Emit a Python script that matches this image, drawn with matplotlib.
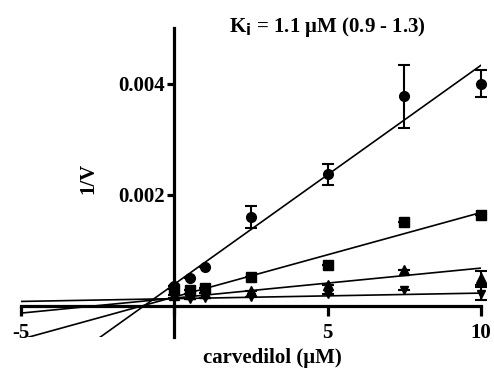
import matplotlib
matplotlib.use("Agg")
import matplotlib.pyplot as plt
import numpy as np

conc = [0, 0.5, 1, 2.5, 5, 7.5, 10]

circle_y = [0.00035, 0.00050, 0.00070, 0.00160, 0.00237, 0.00377, 0.00400]
circle_err = [0, 0, 0, 0.00020, 0.00019, 0.00057, 0.00024]
square_y = [0.00030, 0.00029, 0.00032, 0.00052, 0.00074, 0.00151, 0.00164]
square_err = [0, 0, 0, 0, 0, 0, 0]
tri_y = [0.00020, 0.00022, 0.00024, 0.00026, 0.00038, 0.00065, 0.00050]
tri_err = [0, 0, 0, 0, 0, 0, 0.00013]
itri_y = [0.00015, 0.00013, 0.00015, 0.00016, 0.00022, 0.00029, 0.00022]
itri_err = [0, 0, 0, 0, 0, 0, 0.00012]

# fitted lines: (slope, intercept)
fit_slopes = [0.000394, 0.000152, 0.000054, 0.000010]
fit_intercepts = [0.00039, 0.00016, 0.00014, 0.00013]

xticks = [-5, 0, 5, 10]
xticklabels = ["-5", "", "5", "10"]
yticks = [0.002, 0.004]
yticklabels = ["0.002", "0.004"]

plt.rcParams['font.family'] = ['Liberation Serif', 'DejaVu Serif']
plt.rcParams['font.weight'] = 'bold'

fig = plt.figure(figsize=(4.94, 3.73), dpi=100)
ax = fig.add_axes([21/494, 36/373, 460/494, 309/373])
ax.set_xlim(-5, 10)
ax.set_ylim(-0.00056, 0.005)

for s in ['top', 'right']:
    ax.spines[s].set_visible(False)
ax.spines['left'].set_position(('data', 0))
ax.spines['bottom'].set_position(('data', 0))
ax.spines['left'].set_linewidth(2.3)
ax.spines['bottom'].set_linewidth(2.3)

ax.set_xticks(xticks)
ax.set_xticklabels(xticklabels, fontsize=15, fontweight='bold')
ax.set_yticks(yticks)
ax.set_yticklabels(yticklabels, fontsize=15, fontweight='bold')
ax.tick_params(axis='x', direction='out', length=7, width=2.3, pad=5)
ax.tick_params(axis='y', direction='out', length=5, width=2.3, pad=2)

xl = np.array([-5, 10.05])
for m, b in zip(fit_slopes, fit_intercepts):
    ax.plot(xl, m * xl + b, color='black', lw=1.2)

series = [
    (circle_y, circle_err, 'o', 7),
    (square_y, square_err, 's', 6.5),
    (tri_y, tri_err, '^', 7),
    (itri_y, itri_err, 'v', 5.5),
]
for y, e, mk, ms in series:
    ax.errorbar(conc, y, yerr=e, fmt=mk, color='black', ms=ms, ecolor='black',
                elinewidth=1.5, capsize=4, capthick=1.5, clip_on=False, zorder=3)

fig.text(88/494, 1 - 178/373, "1/V", rotation=90, ha='center', va='center',
         fontsize=15, fontweight='bold')
fig.text(272/494, 1 - 358/373, "carvedilol (\u03bcM)", ha='center', va='center',
         fontsize=15, fontweight='bold')
fig.text(327/494, 1 - 27/373, "K$_\\mathbf{i}$ = 1.1 \u03bcM (0.9 - 1.3)", ha='center',
         va='center', fontsize=15, fontweight='bold')

fig.savefig("out.png", dpi=100)
